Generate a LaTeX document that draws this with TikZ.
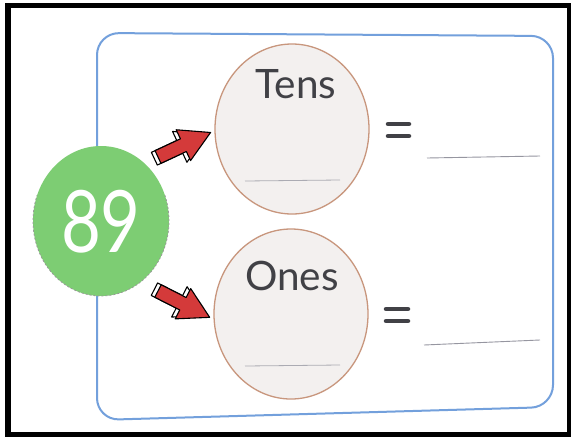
\documentclass[tikz,border=0pt]{standalone}
\usepackage{fontspec}
\setmainfont{Lato}
\usetikzlibrary{shapes.geometric}
\definecolor{boxblue}{RGB}{115,160,220}
\definecolor{ringbrown}{RGB}{200,150,125}
\definecolor{ringfill}{RGB}{243,240,239}
\definecolor{greenfill}{RGB}{125,205,115}
\definecolor{arrowred}{RGB}{212,58,58}
\definecolor{textgray}{RGB}{65,65,70}
\definecolor{linegray}{RGB}{150,150,160}
\begin{document}
\begin{tikzpicture}[x=1pt,y=-1pt,
  ring/.style={ellipse, draw=ringbrown, line width=1.3pt, fill=ringfill,
    minimum width=154, minimum height=170, inner sep=0pt},
  ringlabel/.style={text=textgray, anchor=base, inner sep=0pt,
    font=\fontsize{40.5}{40.5}\selectfont},
  eqbar/.style={line width=4.5pt, line cap=round, draw=textgray},
  answerline/.style={draw=linegray, line width=0.9pt},
  innerline/.style={draw=linegray!80, line width=0.8pt},
  arrowfront/.style={fill=arrowred, draw=black, line width=1.1pt, line join=round},
  arrowback/.style={fill=white, draw=black, line width=1.1pt, line join=round}]
\useasboundingbox (0,0) rectangle (571,437);
% frame
\fill[white] (0,0) rectangle (571,437);
\fill[black] (5,3) rectangle (571,437);
\fill[white] (11,8) rectangle (567,432);
% blue box
\draw[boxblue, line width=2pt, rounded corners=22pt]
  (97,200) -- (97,33) -- (553,36) -- (553,407) -- (97,420) -- cycle;
% green number disc
\node[ellipse, fill=greenfill, minimum width=136, minimum height=150, inner sep=0pt] (num) at (101,221) {};
\draw[gray!80, line width=0.8pt, dash pattern=on 2pt off 2pt]
  (164.9,195.3) arc[start angle=-20, end angle=200, x radius=68, y radius=75];
\node[text=white, inner sep=0pt, font=\fontsize{86}{86}\selectfont] (numtext) at (101,222) {\scalebox{0.8}[1]{89}};
% rings
\node[ring] (tens) at (292,129) {};
\node[ring] (ones) at (291,314) {};
\node[ringlabel] (tenslabel) at (296,98) {Tens};
\node[ringlabel] (oneslabel) at (292,290) {Ones};
\coordinate (tl1) at (245,181); \coordinate (tl2) at (340,180);
\coordinate (ol1) at (245,366); \coordinate (ol2) at (340,365);
\draw[innerline] (tl1) -- (tl2);
\draw[innerline] (ol1) -- (ol2);
% equals
\coordinate (te1) at (388,124); \coordinate (te2) at (409,124);
\coordinate (te3) at (388,136); \coordinate (te4) at (409,136);
\coordinate (oe1) at (386,309); \coordinate (oe2) at (408,309);
\coordinate (oe3) at (386,321); \coordinate (oe4) at (408,321);
\draw[eqbar] (te1) -- (te2); \draw[eqbar] (te3) -- (te4);
\draw[eqbar] (oe1) -- (oe2); \draw[eqbar] (oe3) -- (oe4);
% answer lines
\coordinate (ta1) at (427,158); \coordinate (ta2) at (540,156);
\coordinate (oa1) at (424,345); \coordinate (oa2) at (540,340);
\draw[answerline] (ta1) -- (ta2);
\draw[answerline] (oa1) -- (oa2);
% arrows
\begin{scope}[shift={(158,157)}, rotate=25]
  \draw[arrowback] (-4,-7) -- (24,-7) -- (24,-17) -- (54,0) -- (24,17) -- (24,7) -- (-4,7) -- cycle;
  \draw[arrowfront] (0,-7) -- (28,-7) -- (28,-17) -- (58,0) -- (28,17) -- (28,7) -- (0,7) -- cycle;
\end{scope}
\begin{scope}[shift={(158,291)}, rotate=-27]
  \draw[arrowback] (-4,-7) -- (24,-7) -- (24,-17) -- (54,0) -- (24,17) -- (24,7) -- (-4,7) -- cycle;
  \draw[arrowfront] (0,-7) -- (28,-7) -- (28,-17) -- (58,0) -- (28,17) -- (28,7) -- (0,7) -- cycle;
\end{scope}
\end{tikzpicture}
\end{document}
